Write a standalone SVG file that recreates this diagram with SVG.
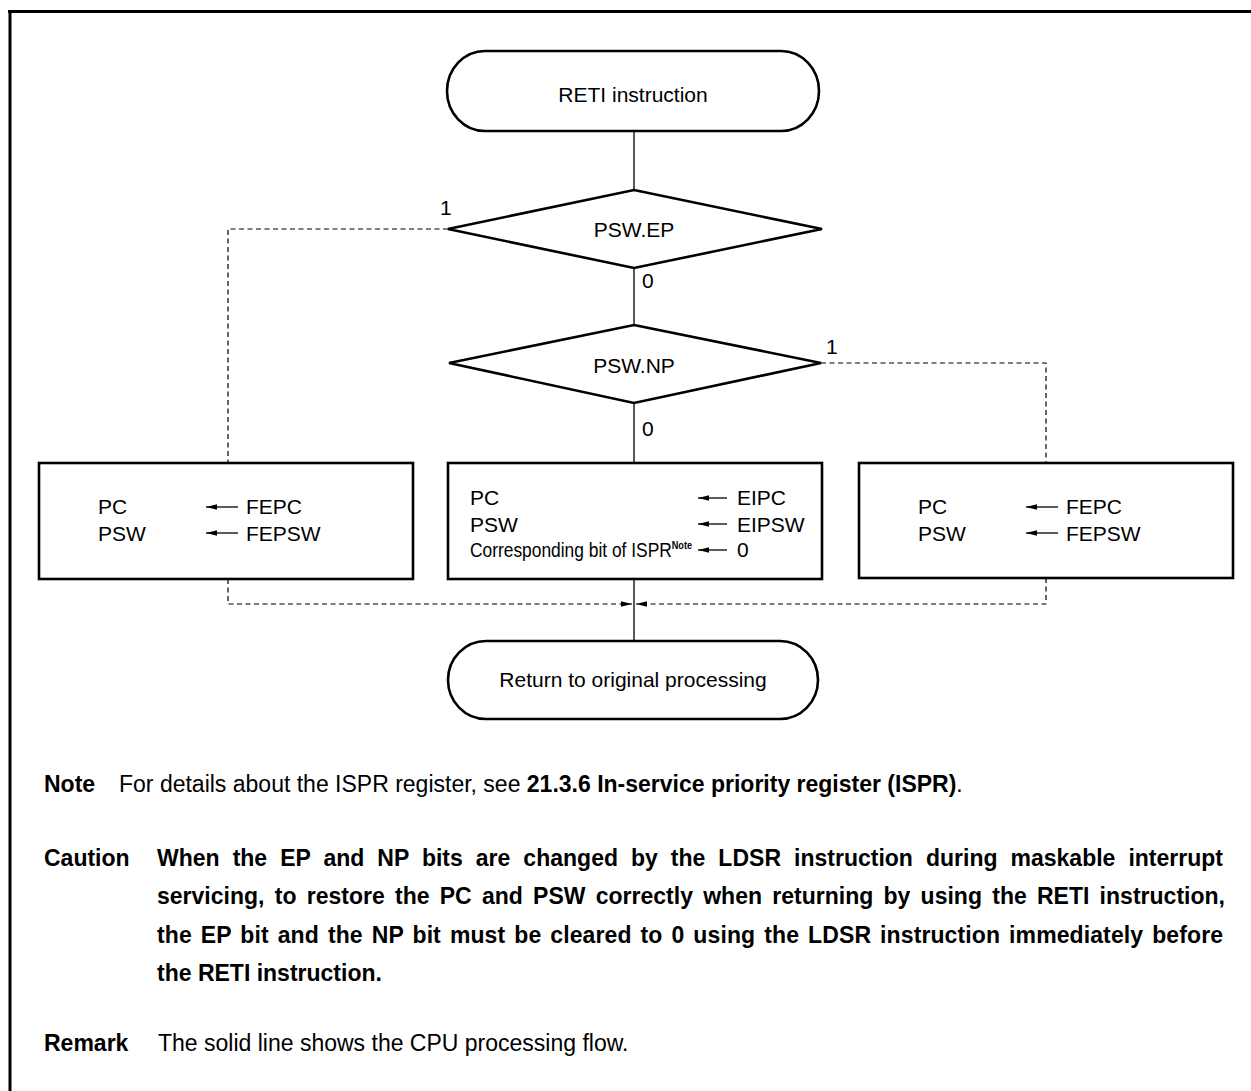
<svg xmlns="http://www.w3.org/2000/svg" width="1251" height="1091" viewBox="0 0 1251 1091">
<style>
.frame{stroke:#000;stroke-width:3;fill:none}
.shape{fill:#fff;stroke:#000;stroke-width:2.6}
.solid{stroke:#000;stroke-width:1.3;fill:none}
.dash{stroke:#000;stroke-width:1.2;fill:none;stroke-dasharray:5 3.5}
.arr{stroke:#000;stroke-width:1.3;fill:none}
text{font-family:"Liberation Sans",Arial,Helvetica,sans-serif;fill:#000}
.t{font-size:21px}
.c{text-anchor:middle}
.n{font-size:23px}
.b{font-weight:bold}
</style>
<defs>
<marker id="ah" viewBox="0 -3 11 6" refX="11" refY="0" markerWidth="11" markerHeight="6" markerUnits="userSpaceOnUse" orient="auto">
<path d="M0,-2.8 L11,0 L0,2.8 z" fill="#000"/>
</marker>
</defs>
<rect width="1251" height="1091" fill="#fff"/>
<g id="frame">
<path class="frame" d="M8,11.5 H1251 M10,10 V1091"/>
</g>
<g id="connectors">
<path class="solid" d="M634,131 V190 M634,268 V325 M634,403 V463 M634,579 V641"/>
<path class="dash" d="M448,229 H228 V463"/>
<path class="dash" d="M821,363 H1046 V463"/>
<path class="dash" d="M228,579 V604 H632" marker-end="url(#ah)"/>
<path class="dash" d="M1046,578 V604 H636" marker-end="url(#ah)"/>
<text class="t" x="440" y="215">1</text>
<text class="t" x="642" y="288">0</text>
<text class="t" x="826" y="354">1</text>
<text class="t" x="642" y="436">0</text>
</g>
<g id="start">
<rect class="shape" x="447" y="51" width="372" height="80" rx="38" ry="40"/>
<text class="t c" x="633" y="102">RETI instruction</text>
</g>
<g id="decision-ep">
<polygon class="shape" points="634,190 822,229 634,268 448,229"/>
<text class="t c" x="634" y="237">PSW.EP</text>
</g>
<g id="decision-np">
<polygon class="shape" points="634,325 821,363 634,403 449,363"/>
<text class="t c" x="634" y="373">PSW.NP</text>
</g>
<g id="box-left">
<rect class="shape" x="39" y="463" width="374" height="116"/>
<text class="t" x="98" y="514">PC</text>
<text class="t" x="98" y="541">PSW</text>
<line class="arr" x1="238" y1="507" x2="206" y2="507" marker-end="url(#ah)"/>
<line class="arr" x1="238" y1="533" x2="206" y2="533" marker-end="url(#ah)"/>
<text class="t" x="246" y="514">FEPC</text>
<text class="t" x="246" y="541">FEPSW</text>
</g>
<g id="box-middle">
<rect class="shape" x="448" y="463" width="374" height="116"/>
<text class="t" x="470" y="505">PC</text>
<text class="t" x="470" y="532">PSW</text>
<text class="t" x="470" y="557" textLength="222" lengthAdjust="spacingAndGlyphs">Corresponding bit of ISPR<tspan class="b" font-size="11" dy="-8">Note</tspan></text>
<line class="arr" x1="727" y1="498" x2="698" y2="498" marker-end="url(#ah)"/>
<line class="arr" x1="727" y1="524" x2="698" y2="524" marker-end="url(#ah)"/>
<line class="arr" x1="727" y1="550" x2="698" y2="550" marker-end="url(#ah)"/>
<text class="t" x="737" y="505">EIPC</text>
<text class="t" x="737" y="532">EIPSW</text>
<text class="t" x="737" y="557">0</text>
</g>
<g id="box-right">
<rect class="shape" x="859" y="463" width="374" height="115"/>
<text class="t" x="918" y="514">PC</text>
<text class="t" x="918" y="541">PSW</text>
<line class="arr" x1="1058" y1="507" x2="1026" y2="507" marker-end="url(#ah)"/>
<line class="arr" x1="1058" y1="533" x2="1026" y2="533" marker-end="url(#ah)"/>
<text class="t" x="1066" y="514">FEPC</text>
<text class="t" x="1066" y="541">FEPSW</text>
</g>
<g id="end">
<rect class="shape" x="448" y="641" width="370" height="78" rx="38" ry="39"/>
<text class="t c" x="633" y="687">Return to original processing</text>
</g>
<g id="notes">
<text class="n b" x="44" y="792">Note</text>
<text class="n" x="119" y="792">For details about the ISPR register, see <tspan class="b">21.3.6  In-service priority register (ISPR)</tspan>.</text>
<text class="n b" x="44" y="866">Caution</text>
<text class="n b" x="157" y="866" word-spacing="6.6" textLength="1066" lengthAdjust="spacing">When the EP and NP bits are changed by the LDSR instruction during maskable interrupt</text>
<text class="n b" x="157" y="904" word-spacing="3.8" textLength="1068" lengthAdjust="spacing">servicing, to restore the PC and PSW correctly when returning by using the RETI instruction,</text>
<text class="n b" x="157" y="943" word-spacing="2.5" textLength="1066" lengthAdjust="spacing">the EP bit and the NP bit must be cleared to 0 using the LDSR instruction immediately before</text>
<text class="n b" x="157" y="981">the RETI instruction.</text>
<text class="n b" x="44" y="1051">Remark</text>
<text class="n" x="158" y="1051">The solid line shows the CPU processing flow.</text>
</g>
</svg>
